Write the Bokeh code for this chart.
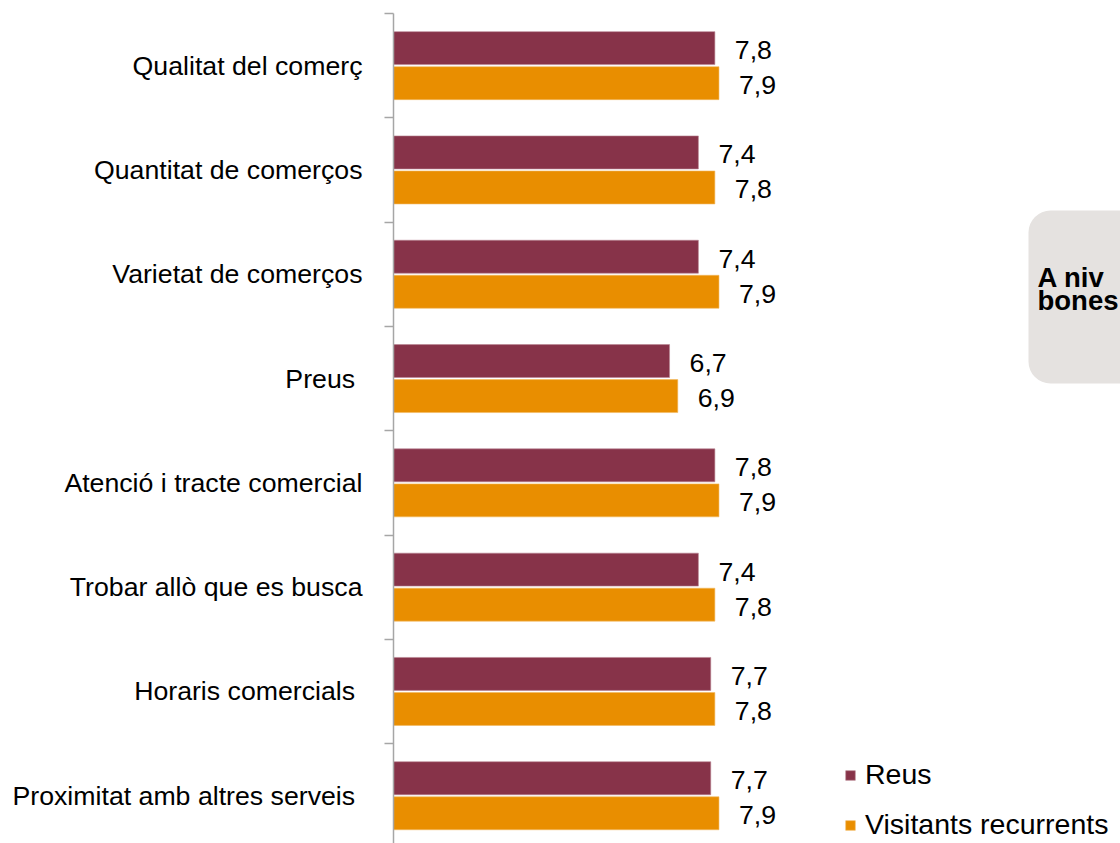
from bokeh.plotting import figure
from bokeh.models import (Range1d, FixedTicker, ColumnDataSource, Legend, LegendItem,
                          BoxAnnotation)
from bokeh.transform import dodge
from bokeh.core.properties import value
from bokeh.embed import file_html
from bokeh.resources import INLINE

categories = ["Qualitat del comerç", "Quantitat de comerços", "Varietat de comerços", "Preus ",
              "Atenció i tracte comercial", "Trobar allò que es busca", "Horaris comercials ",
              "Proximitat amb altres serveis "]
reus = [7.8, 7.4, 7.4, 6.7, 7.8, 7.4, 7.7, 7.7]
visitants = [7.9, 7.8, 7.9, 6.9, 7.9, 7.8, 7.8, 7.9]
series_names = ["Reus", "Visitants recurrents"]
box_lines = ["A niv", "bones"]

REUS_C = "#873349"
VIS_C = "#E98E00"
FONT = "Liberation Sans"
FS = "26.7px"

def fmt(v):
    return f"{v:.1f}".replace(".", ",")

idx = list(range(len(categories)))
src = ColumnDataSource(dict(
    y=idx, reus=reus, vis=visitants,
    reus_lbl=[fmt(v) for v in reus], vis_lbl=[fmt(v) for v in visitants],
))

W, H = 1120, 843
left_border = 393
px_per_unit = 41.2
band_px = 104.3
top_px = 13
frame_w = W - left_border
frame_h = H - top_px
x_end = frame_w / px_per_unit
y_bottom = -0.5 + frame_h / band_px

p = figure(width=W, height=H, output_backend="svg", toolbar_location=None,
           x_range=Range1d(0, x_end), y_range=Range1d(y_bottom, -0.5),
           min_border_left=left_border, min_border_top=top_px, min_border_bottom=0,
           min_border_right=0, x_axis_location=None)
p.outline_line_color = None
p.grid.visible = False
p.background_fill_color = "white"
p.border_fill_color = "white"

off = 0.168
hgt = 0.316
r1 = p.hbar(y=dodge("y", -off), right="reus", left=0, height=hgt, source=src,
            fill_color=REUS_C, line_color="#b98592", line_width=0.6)
r2 = p.hbar(y=dodge("y", off), right="vis", left=0, height=hgt, source=src,
            fill_color=VIS_C, line_color="#f2b860", line_width=0.6)

p.text(x="reus", y=dodge("y", -off), text="reus_lbl", source=src, x_offset=20, y_offset=2,
       text_baseline="middle", text_align="left", text_font=value(FONT),
       text_font_size=FS, text_color="black")
p.text(x="vis", y=dodge("y", off), text="vis_lbl", source=src, x_offset=20, y_offset=2,
       text_baseline="middle", text_align="left", text_font=value(FONT),
       text_font_size=FS, text_color="black")

# y axis with category labels at centres, ticks at band boundaries
ax = p.yaxis[0]
ax.ticker = FixedTicker(ticks=idx, minor_ticks=[i - 0.5 for i in range(len(categories) + 1)])
ax.major_label_overrides = {i: c for i, c in enumerate(categories)}
ax.major_tick_line_color = None
ax.major_tick_out = 0
ax.major_tick_in = 0
ax.minor_tick_out = 9
ax.minor_tick_in = 0
ax.minor_tick_line_color = "#a6a6a6"
ax.minor_tick_line_width = 1.5
ax.axis_line_color = "#a6a6a6"
ax.axis_line_width = 1.5
ax.major_label_standoff = 22
ax.major_label_text_font = FONT
ax.major_label_text_font_size = FS
ax.major_label_text_color = "black"

# grey rounded note box on the right
x0 = (1028 - 393) / px_per_unit
y0 = -0.5 + (210 - 13) / band_px
y1 = -0.5 + (383 - 13) / band_px
box = BoxAnnotation(left=x0, right=x_end + 3, top=y0, bottom=y1,
                    fill_color="#E5E2E0", fill_alpha=1.0, line_color=None,
                    border_radius=22, level="underlay")
p.add_layout(box)
tx = (1037 - 393) / px_per_unit
ty = [-0.5 + (277 - 13) / band_px, -0.5 + (300 - 13) / band_px]
p.text(x=[tx, tx], y=ty, text=box_lines, text_baseline="alphabetic", text_align="left",
       text_font=value(FONT), text_font_size="27.5px", text_font_style="bold",
       text_color="black")

legend = Legend(items=[LegendItem(label=series_names[0], renderers=[r1]),
                       LegendItem(label=series_names[1], renderers=[r2])],
                location=(451, 2), orientation="vertical")
legend.glyph_width = 12
legend.glyph_height = 12
legend.label_standoff = 9
legend.spacing = 17
legend.padding = 0
legend.margin = 0
legend.border_line_color = None
legend.background_fill_alpha = 0
legend.label_text_font = FONT
legend.label_text_font_size = "28.5px"
legend.label_text_color = "black"
p.add_layout(legend, "center")

open("out.html", "w").write(file_html(p, INLINE))
